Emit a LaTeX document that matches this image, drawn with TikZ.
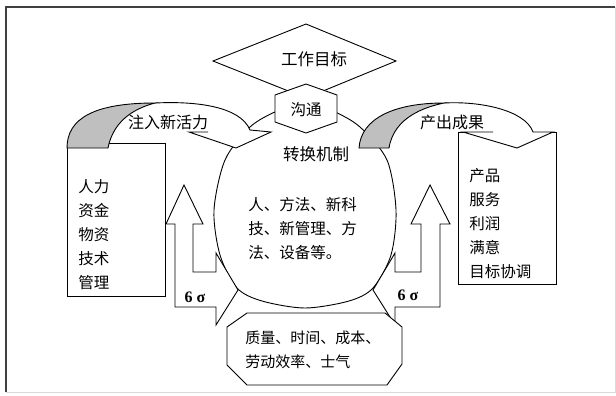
\documentclass[tikz,border=0pt]{standalone}
\usepackage{fontspec}
\newfontfamily\cjk{Noto Sans CJK SC}
\newfontfamily\sigfont{Liberation Serif}
\begin{document}
\begin{tikzpicture}[x=1bp,y=-1bp,line width=0.9bp,line join=miter]
\tikzset{
  txt/.style={font=\cjk\fontsize{15.5bp}{24bp}\selectfont,inner sep=0pt},
  blk/.style={txt,anchor=west,align=left},
  outlined/.style={draw=black,fill=white},
  shadedpart/.style={draw=black,fill=black!25},
  sig/.style={font=\sigfont\bfseries\fontsize{16bp}{18bp}\selectfont,inner sep=0pt}
}
\useasboundingbox (0,0) rectangle (616,395);
% frame
\draw[black!15,line width=1bp] (615,7) -- (615,392) -- (6,392);
\draw[black!75,line width=1.3bp] (6,392) -- (6,7) -- (615,7);
% central circle
\draw[outlined] plot[smooth cycle] coordinates {(305,102) (333,111) (360,127) (387,160) (396,210) (391,255) (373,288) (349,301) (305,308) (262,301) (237,288) (220,255) (214,210) (225,160) (250,127) (277,111)};
% diamond
\draw[outlined] (306,24) -- (396,61) -- (306,98) -- (213,61) -- cycle;
% hexagon
\draw[outlined] (306,84) -- (337,95) -- (337,122) -- (306,133) -- (275,122) -- (275,95) -- cycle;
% boxes
\draw[outlined] (67,143) rectangle (165,296);
\draw[outlined] (458,132) rectangle (556,284);
% left curved arrow
\fill[white] (155,103) .. controls (195,101) and (240,106) .. (250,130) -- (271,132) -- (236,148) -- (189,132) -- (208,132) .. controls (190,112) and (150,108) .. (124,117) -- cycle;
\draw (155,103) .. controls (195,101) and (240,106) .. (250,130) -- (271,132) -- (236,148) -- (189,132) -- (208,132);
\draw[shadedpart] (67,148) .. controls (67,118) and (95,103) .. (155,103) .. controls (140,107) and (114,117) .. (108,148) -- cycle;
% right curved arrow
\fill[white] (444,103) .. controls (480,101) and (525,110) .. (533,132) -- (553,132) -- (517,148) -- (463,132) -- (493,132) .. controls (480,112) and (440,108) .. (412,117) -- cycle;
\draw (444,103) .. controls (480,101) and (525,110) .. (533,132) -- (553,132) -- (517,148) -- (463,132) -- (493,132);
\draw[shadedpart] (359,148) .. controls (361,118) and (395,103) .. (444,103) .. controls (425,107) and (394,117) .. (389,148) -- cycle;
% bent arrows
\draw[outlined] (184,185) -- (203,224) -- (193,224) -- (193,272) -- (216,272) -- (216,253) -- (238,290) -- (216,325) -- (216,307) -- (175,307) -- (175,224) -- (166,224) -- cycle;
\draw[outlined] (430,185) -- (450,224) -- (440,224) -- (440,307) -- (395,307) -- (395,325) -- (373,290) -- (395,253) -- (395,272) -- (421,272) -- (421,224) -- (411,224) -- cycle;
% octagon
\draw[outlined] (247,313) -- (385,313) -- (402,327) -- (402,364) -- (387,385) -- (247,385) -- (227,365) -- (227,327) -- cycle;
% texts
\node[txt,font=\cjk\fontsize{16.5bp}{20bp}\selectfont] (goal) at (314,59) {工作目标};
\node[txt] (comm) at (306,110) {沟通};
\node[txt,font=\cjk\fontsize{16.5bp}{20bp}\selectfont] (mech) at (316,154) {转换机制};
\node[blk] (core) at (248,229) {人、方法、新科\\技、新管理、方\\法、设备等。};
\node[blk] (inputs) at (78,235) {人力\\资金\\物资\\技术\\管理};
\node[blk] (outputs) at (469,224) {产品\\服务\\利润\\满意\\目标协调};
\node[txt,font=\cjk\fontsize{16bp}{20bp}\selectfont] (inject) at (168,122) {注入新活力};
\node[txt,font=\cjk\fontsize{16bp}{20bp}\selectfont] (result) at (452,122) {产出成果};
\node[blk,font=\cjk\fontsize{15bp}{24bp}\selectfont] (factors) at (245,350) {质量、时间、成本、\\劳动效率、士气};
\node[sig] (sigL) at (195,297) {6 σ};
\node[sig] (sigR) at (408,295) {6 σ};
\end{tikzpicture}
\end{document}
